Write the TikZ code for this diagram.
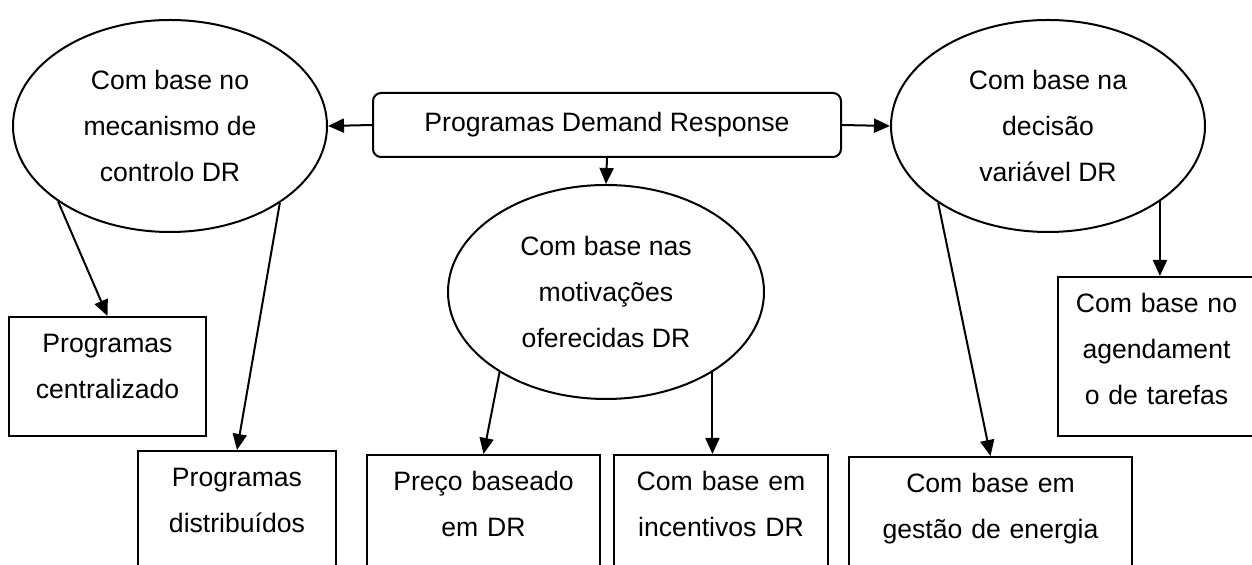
\documentclass[tikz,border=0pt]{standalone}
\usepackage{fontspec}
\setmainfont{Liberation Sans}
\usetikzlibrary{shapes.geometric, arrows.meta}
\tikzstyle{elli} = [ellipse, draw=black, line width=1pt, align=center, inner sep=0pt]
\tikzstyle{leaf} = [rectangle, draw=black, line width=1pt, align=center, inner sep=0pt, text height=18pt, anchor=north west]
\tikzstyle{arrow} = [line width=1pt, -{Triangle[length=8pt, width=7pt]}]

\begin{document}
\begin{tikzpicture}[x=0.5pt, y=-0.5pt, font=\fontsize{13.3}{23}\selectfont]
\useasboundingbox (0,0) rectangle (1252,565);
\clip (0,0) rectangle (1252,565);

% DR programs
\node (prog) [rectangle, rounded corners=4pt, draw=black, line width=1pt, minimum width=234pt, minimum height=32pt] at (607,125) {Programas Demand Response};

% Classification criteria
\node (mech) [elli, minimum width=157pt, minimum height=106pt] at (170,126) {Com base no\\mecanismo de\\controlo DR};
\node (motiv) [elli, minimum width=158pt, minimum height=107pt] at (606,292) {Com base nas\\motivações\\oferecidas DR};
\node (decis) [elli, minimum width=157pt, minimum height=106pt] at (1048,126) {Com base na\\decisão\\variável DR};

% Program types
\node (central) [leaf, text width=98.5pt, text depth=41.5pt] at (8,316) {Programas\\centralizado};
\node (distrib) [leaf, text width=99pt, text depth=47pt] at (137,450) {Programas\\distribuídos};
\node (preco) [leaf, text width=116.5pt, text depth=47pt] at (366,454) {Preço baseado\\em DR};
\node (incent) [leaf, text width=107pt, text depth=47pt] at (613,454) {Com base em\\incentivos DR};
\node (gestao) [leaf, text width=141.5pt, text depth=47pt] at (848,456) {Com base em\\gestão de energia};
\node (agenda) [leaf, text width=98.5pt, text depth=61.5pt] at (1057,276) {Com base no\\agendament\\o de tarefas};

% Arrows
\draw [arrow] (prog.west) -- (mech.east);
\draw [arrow] (prog.east) -- (decis.west);
\draw [arrow] (prog.south) -- (motiv.north);
\draw [arrow] (mech.-146) -- (central.north);
\draw [arrow] (mech.-35) -- (distrib.north);
\draw [arrow] (motiv.-143) -- (preco.north);
\draw [arrow] (motiv.-37) -- (motiv.-37 |- incent.north);
\draw [arrow] (decis.-145) -- (gestao.north);
\draw [arrow] (decis.-34) -- (decis.-34 |- agenda.north);

\end{tikzpicture}
\end{document}
